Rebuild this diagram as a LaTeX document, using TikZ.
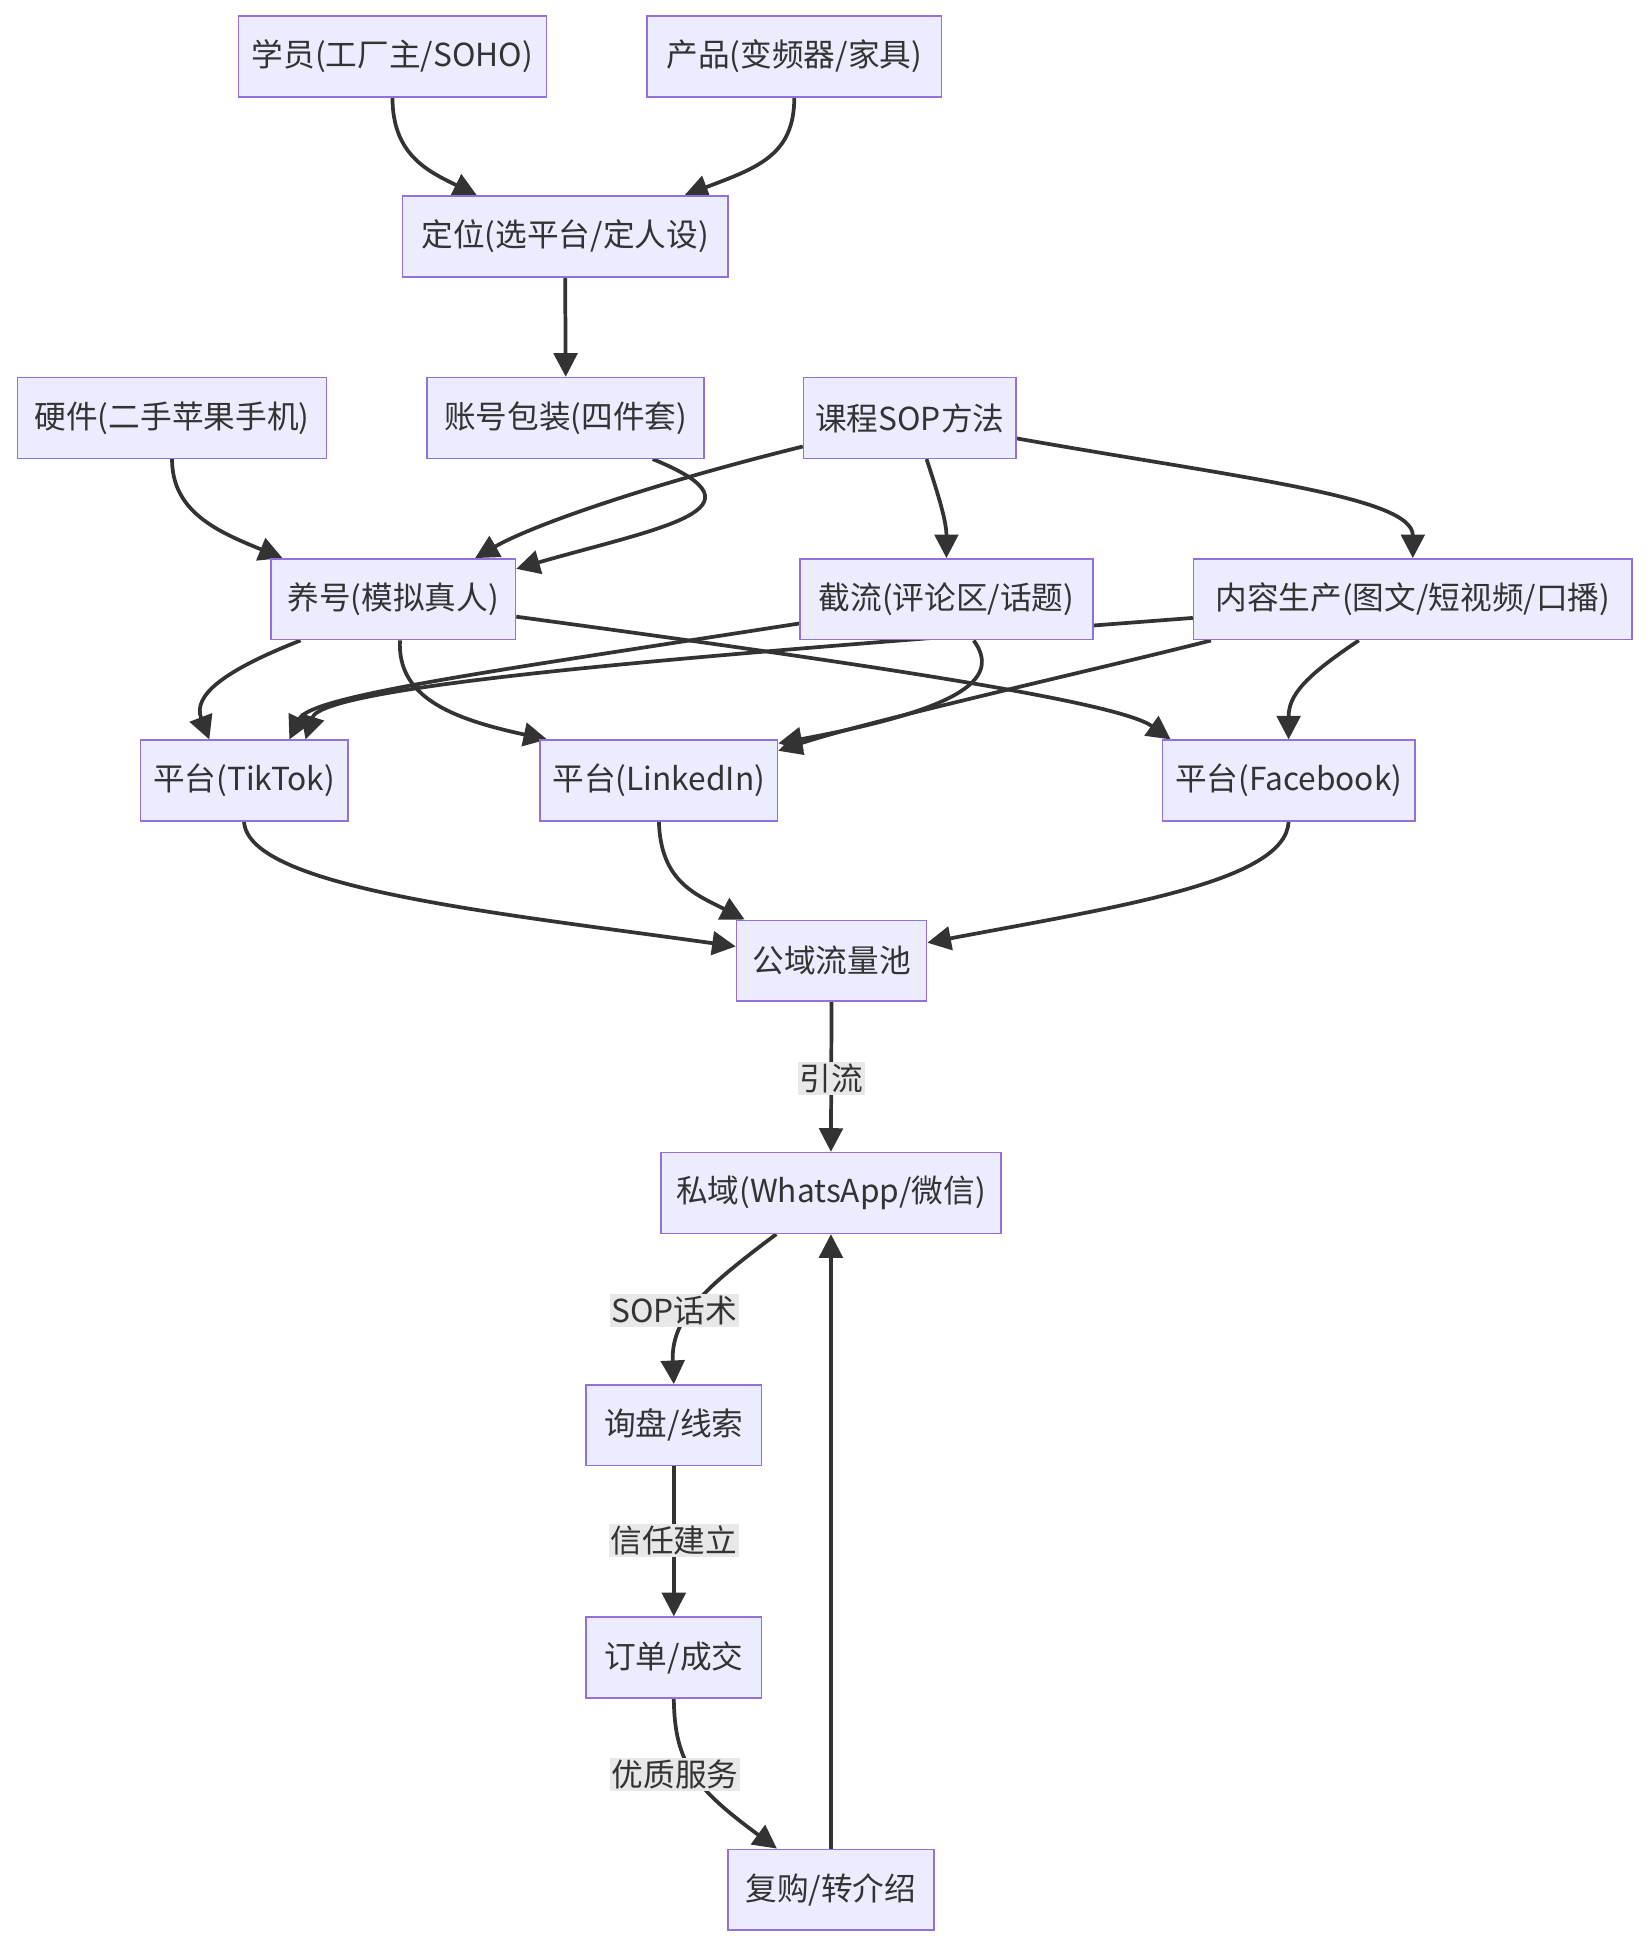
\documentclass[tikz,border=0pt]{standalone}
\usepackage{fontspec}
\setmainfont{Noto Sans CJK SC}
\usetikzlibrary{arrows.meta,backgrounds}
\definecolor{nodefill}{HTML}{ECECFF}
\definecolor{nodeborder}{HTML}{9370DB}
\definecolor{edgecol}{HTML}{333333}
\definecolor{lblfill}{HTML}{E8E8E8}
\begin{document}
\begin{tikzpicture}[x=1pt,y=-1pt,
  box/.style={draw=nodeborder, line width=1.3pt, fill=nodefill, minimum height=65pt,
    inner sep=0pt, text=edgecol, font=\fontsize{25.5}{30}\selectfont},
  edge/.style={draw=edgecol, line width=3pt, -{Triangle[length=19pt,width=19pt]}},
  lbl/.style={fill=lblfill, inner sep=1.5pt, text=edgecol, font=\fontsize{25.5}{30}\selectfont}]
\useasboundingbox (0,0) rectangle (1330,1570);
% nodes
\node[box, minimum width=248pt] (xy) at (316,45.5) {学员(工厂主/SOHO)};
\node[box, minimum width=237pt] (cp) at (639.5,45.5) {产品(变频器/家具)};
\node[box, minimum width=262pt] (dw) at (455,190.5) {定位(选平台/定人设)};
\node[box, minimum width=249pt] (yj) at (138.5,336.5) {硬件(二手苹果手机)};
\node[box, minimum width=223pt] (zh) at (455.5,336.5) {账号包装(四件套)};
\node[box, minimum width=171pt] (kc) at (732.5,336.5) {课程SOP方法};
\node[box, minimum width=197pt] (yh) at (316.5,482.5) {养号(模拟真人)};
\node[box, minimum width=236pt] (jl) at (762,482.5) {截流(评论区/话题)};
\node[box, minimum width=353pt] (nr) at (1137.5,482.5) {内容生产(图文/短视频/口播)};
\node[box, minimum width=167pt] (tt) at (196.5,628.5) {平台(TikTok)};
\node[box, minimum width=191pt] (li) at (530.5,628.5) {平台(LinkedIn)};
\node[box, minimum width=203pt] (fb) at (1037.5,628.5) {平台(Facebook)};
\node[box, minimum width=153pt] (gy) at (669.5,773.5) {公域流量池};
\node[box, minimum width=274pt] (sy) at (669,960.5) {私域(WhatsApp/微信)};
\node[box, minimum width=141pt] (xp) at (542.5,1147.5) {询盘/线索};
\node[box, minimum width=141pt] (dd) at (542.5,1334.5) {订单/成交};
\node[box, minimum width=166pt] (fg) at (669,1521.5) {复购/转介绍};
% edge labels
\node[lbl] (l1) at (669.5,868) {引流};
\node[lbl] (l2) at (543,1055) {SOP话术};
\node[lbl] (l3) at (542.5,1240) {信任建立};
\node[lbl] (l4) at (543.5,1428.5) {优质服务};
\begin{scope}[on background layer]
\fill[white] (0,0) rectangle (1330,1570);
\draw[edge] (xy.south) .. controls (316,125) and (345,138) .. ([xshift=-71pt]dw.north);
\draw[edge] (cp.south) .. controls (639.5,125) and (610,135) .. ([xshift=96pt]dw.north);
\draw[edge] (dw.south) -- (zh.north);
\draw[edge] (yj.south) .. controls (138.5,412) and (175,428) .. ([xshift=-89pt]yh.north);
\draw[edge] ([xshift=70pt]zh.south) .. controls (625,410) and (530,425) .. ([yshift=24.5pt]yh.east);
\draw[edge] ([yshift=-23pt]kc.west) .. controls (527,389) and (430,422) .. ([xshift=66pt]yh.north);
\draw[edge] ([xshift=13.5pt]kc.south) .. controls (756,400) and (762,420) .. (jl.north);
\draw[edge] ([yshift=-16.5pt]kc.east) .. controls (1000,385) and (1137.5,400) .. (nr.north);
\draw[edge] ([xshift=-74.5pt]yh.south) .. controls (180,540) and (155,560) .. ([xshift=-28pt]tt.north);
\draw[edge] ([xshift=5.5pt]yh.south) .. controls (320,560) and (360,578) .. ([xshift=-90pt]li.north);
\draw[edge] ([yshift=-14pt]yh.east) .. controls (700,535) and (900,565) .. ([xshift=-95pt]fb.north);
\draw[edge] ([yshift=-19.5pt]jl.west) .. controls (400,540) and (250,560) .. ([xshift=36.5pt]tt.north);
\draw[edge] ([xshift=22pt]jl.south) .. controls (805,545) and (780,570) .. ([yshift=30pt]li.east);
\draw[edge] ([yshift=-15pt]nr.west) .. controls (600,525) and (260,550) .. ([xshift=49.5pt]tt.north);
\draw[edge] ([xshift=-162.5pt]nr.south) .. controls (900,535) and (700,580) .. ([yshift=24pt]li.east);
\draw[edge] ([xshift=-43.5pt]nr.south) .. controls (1050,545) and (1037.5,560) .. (fb.north);
\draw[edge] (tt.south) .. controls (200,715) and (400,735) .. ([yshift=11.5pt]gy.west);
\draw[edge] (li.south) .. controls (532,710) and (560,720) .. ([xshift=-70pt]gy.north);
\draw[edge] (fb.south) .. controls (1035,710) and (900,730) .. ([yshift=14.5pt]gy.east);
\draw[edge] (gy.south) -- (sy.north);
\draw[edge] ([xshift=-44pt]sy.south) .. controls (570,1035) and (540,1060) .. (xp.north);
\draw[edge] (xp.south) -- (dd.north);
\draw[edge] (dd.south) .. controls (543,1420) and (560,1440) .. ([xshift=-43.5pt]fg.north);
\draw[edge] (fg.north) -- (sy.south);
\end{scope}
\end{tikzpicture}
\end{document}
